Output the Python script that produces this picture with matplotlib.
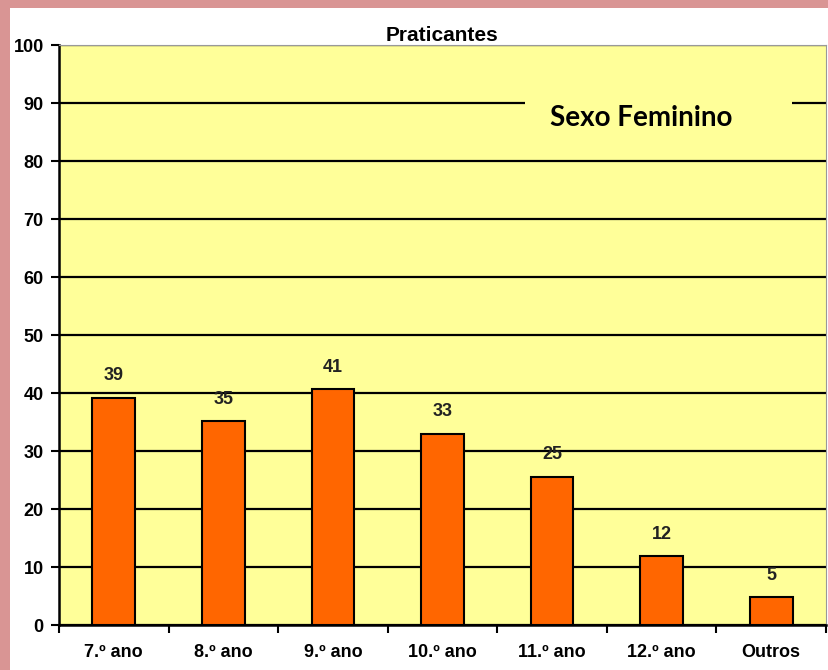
#!/usr/bin/env python3
import matplotlib.pyplot as plt
from matplotlib.patches import Rectangle
import numpy as np

# ---------- DATA ----------
categories = ["7.º ano", "8.º ano", "9.º ano", "10.º ano", "11.º ano", "12.º ano", "Outros"]
values = [39, 35, 41, 33, 25, 12, 5]
bar_heights = [39.2, 35.2, 40.7, 33.0, 25.6, 11.9, 4.8]
yticks = list(range(0, 101, 10))

TITLE = "Praticantes"
NOTE = "Sexo Feminino"

# ---------- STYLE ----------
PINK = "#D99594"
YELLOW = "#FFFF99"
ORANGE = "#FF6600"
LBL_FONT = ["Liberation Sans Narrow", "Liberation Sans", "DejaVu Sans"]

W, H = 829, 670
fig = plt.figure(figsize=(W / 100, H / 100), dpi=100)
fig.patch.set_facecolor(PINK)
# white inner panel inside the pink frame
fig.patches.append(Rectangle((10 / W, 0), 1 - 10 / W, 1 - 8 / H,
                             transform=fig.transFigure, facecolor="white",
                             edgecolor="none", zorder=-10))

left, right, top, bottom = 59, 826, 45, 625
ax = fig.add_axes([left / W, 1 - bottom / H, (right - left) / W, (bottom - top) / H])
ax.set_facecolor(YELLOW)

x = np.arange(len(categories))
ax.bar(x, bar_heights, width=0.39, color=ORANGE, edgecolor="black", linewidth=1.5, zorder=3)

for xi, h, v in zip(x, bar_heights, values):
    ax.text(xi, h + 2.3, str(v), ha="center", va="bottom", fontsize=13,
            fontweight="bold", family=LBL_FONT, color="#222222")

ax.set_xlim(-0.5, len(categories) - 0.5)
ax.set_ylim(0, 100)
ax.set_yticks(yticks)
ax.set_yticklabels([str(t) for t in yticks], family=LBL_FONT, fontweight="bold", fontsize=13)
ax.yaxis.grid(True, color="black", linewidth=1.6, zorder=1)
ax.set_axisbelow(True)

# ticks on category boundaries, labels centered
ax.set_xticks(np.arange(len(categories) + 1) - 0.5)
ax.set_xticklabels([])
ax.set_xticks(x, minor=True)
ax.set_xticklabels(categories, minor=True, family=LBL_FONT, fontweight="bold", fontsize=13)
ax.tick_params(axis="x", which="minor", length=0, pad=14)
ax.tick_params(axis="x", which="major", length=6, width=1.5)
ax.tick_params(axis="y", length=6, width=1.5, pad=5)

for side in ["left", "bottom"]:
    ax.spines[side].set_linewidth(1.8)
ax.spines["top"].set_color("#999999")
ax.spines["right"].set_color("#999999")

ax.set_title(TITLE, family=LBL_FONT, fontweight="bold", fontsize=15, pad=3)

# yellow patch hiding the gridline behind the note
ax.add_patch(Rectangle((0.6076, 0.87), 0.348, 0.06, transform=ax.transAxes,
                       facecolor=YELLOW, edgecolor="none", zorder=4))
ax.text(0.759, 0.874, NOTE, transform=ax.transAxes, ha="center", va="center",
        fontsize=20, fontweight="bold", family=["Lato", "DejaVu Sans"], zorder=5)

fig.savefig("out.png", dpi=100, facecolor=fig.get_facecolor())
